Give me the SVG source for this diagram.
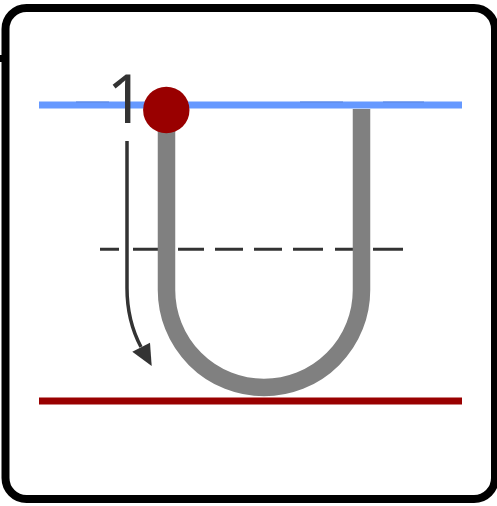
<svg xmlns="http://www.w3.org/2000/svg" width="497" height="506" viewBox="0 0 497 506">
<style>
.frame{fill:#fff;stroke:#000;stroke-width:8}
.tube{fill:none;stroke:#808080;stroke-width:17.5}
.dash{fill:none;stroke:#333;stroke-width:3}
.arrow{fill:none;stroke:#333;stroke-width:3.5}
.lbl{font-family:"Open Sans","Liberation Sans",sans-serif;font-weight:400;font-size:68px;fill:#333}
</style>
<rect x="0" y="55" width="4" height="7" fill="#000"/>
<rect class="frame" x="5.5" y="8" width="489.5" height="491" rx="21" ry="21"/>
<g id="levels">
<line x1="39" y1="105" x2="462" y2="105" stroke="#6699ff" stroke-width="7"/>
<path d="M76,102 H109 M300,102 H343 M383,102 H424" stroke="#5a86e0" stroke-width="1" fill="none"/>
<line x1="39" y1="401" x2="462" y2="401" stroke="#990000" stroke-width="7"/>
</g>
<g id="midline">
<path class="dash" d="M100,249.3 H119 M133,249.3 H165 M178,249.3 H204 M215,249.3 H243 M254,249.3 H282 M293,249.3 H323 M335,249.3 H362 M373,249.3 H403"/>
</g>
<g id="tube">
<path class="tube" d="M166.5,110 V290 A97.5,97.5 0 0 0 361.5,290 V109"/>
</g>
<g id="ball">
<circle cx="166.3" cy="110" r="23.2" fill="#990000"/>
</g>
<g id="connectors">
<path class="arrow" d="M127,141 V288 C127,312 132,330 141,347"/>
<polygon points="151.7,366 132.3,351.7 150,342.7" fill="#333"/>
</g>
<g id="label">
<text class="lbl" x="126" y="123.3" text-anchor="middle">1</text>
</g>
</svg>
